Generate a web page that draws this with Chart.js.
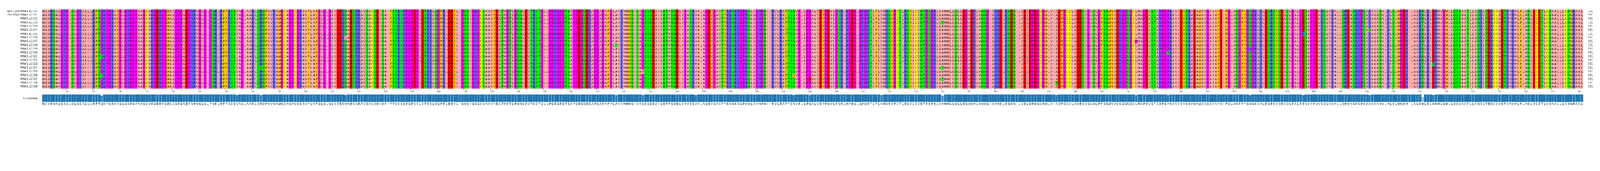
<!DOCTYPE html>
<html>
<head>
<meta charset="utf-8">
<script src="https://cdn.jsdelivr.net/npm/chart.js@4"></script>
<style>
  html, body { margin: 0; padding: 0; background: #fff; overflow: hidden; }
  #wrap { position: relative; width: 6081px; height: 438px; transform-origin: 0 0; }
  canvas { position: absolute; left: 0; top: 0; width: 6081px; height: 438px; }
</style>
</head>
<body>
<div id="wrap">
  <canvas id="msa" width="6081" height="438"></canvas>
  <canvas id="cons" width="6081" height="438"></canvas>
</div>
<script>
// reference sequence (row consensus) and the alignment rows
const REF_SEQ = 'MAVRQALGRGLQLGRALLLRFTGKPGRAYGLGRPGPAAGCVRGERPGWAAGPGAEPRRVGLGLPNRLRFFRQSVAGLAARLQRQFVVRAWGCAGPCGRAVFLAFGLGLGLIEEKQAESRRAVSACQEIQAIFTQKSKPGPDPLDTRRLQGFRLEEYLIGQSIGKGCSAAVYEATMPTLPQNLEVTKSTGLLPGRGPGTSAPGEGQERAPGAPAFPLAIKMMWNISAGSSSEAILNTMSQELVPASRVALAGEYGAVTYRKSKRGPKQLAPHPNIIRVLRAFTSSVPLLPGALVDYPDVLPSRLHPEGLGHGRTLFLVMKNYPCTLRQYLCVNTPSPRLAAMMLLQLLEGVDHLVQQGIAHRDLKSDNILVELDPDGCPWLVIADFGCCLADESIGLQLPFSSWYVDRGGNGCLMAPEVSTARPGPRAVIDYSKADAWAVGAIAYEIFGLVNPFYGQGKAHLESRSYQEAQLPALPESVPPDVRQLVRALLQREASKRPSARVAANVLHLSLWGEHILALKNLKLDKMVGWLLQQSAATLLANRLTEKCCVETKMKMLFLANLECETLCQAALLLCSWRAAL';

const ROW_NAMES = ['grch38p0:PINK1:a0001', 'chm13v2:PINK1:a0001',
  'PINK1:a0001', 'PINK1:a0002', 'PINK1:a0003', 'PINK1:a0004', 'PINK1:a0005',
  'PINK1:a0006', 'PINK1:a0007', 'PINK1:a0008', 'PINK1:a0009', 'PINK1:a0010',
  'PINK1:a0011', 'PINK1:a0012', 'PINK1:a0013', 'PINK1:a0014', 'PINK1:a0015',
  'PINK1:a0016', 'PINK1:a0017', 'PINK1:a0018', 'PINK1:a0019'];

// substitutions: [rows, context in REF_SEQ, offset in context, residue]
const VARIANTS = [
  [[12, 17], 'RFTGKP', 3, 'S'],
  [[12], 'FRQSVAG', 4, 'L'],
  [[15], 'LQRQFVV', 2, 'Q'],
  [[7], 'EEKQAES', 3, 'L'],
  [[9], 'FPLAIKM', 3, 'T'],
  [[16], 'ISAGSSS', 3, 'V'],
  [[14], 'SRVALAG', 2, 'M'],
  [[17], 'FTSSVPLL', 3, 'Y'],
  [[18], 'LLPGALVD', 3, 'E'],
  [[3, 15, 18], 'RLAAMML', 3, 'T'],
  [[20], 'FLVMKNY', 2, 'I'],
  [[8], 'NGCLMAP', 3, 'P'],
  [[11], 'RPGPRAV', 3, 'S'],
  [[19], 'LVIADFG', 3, 'T'],
  [[5], 'KRPSARVAAN', 5, 'Q'],
  [[6], 'PALPESV', 4, 'K'],
  [[10], 'YGQGKAH', 2, 'R'],
  [[3, 4, 9, 11, 14, 15, 18], 'LALKNLKLD', 4, 'T'],
  [[14], 'KNLKLDKMV', 5, 'N']
];

// Zappo colour scheme
const ZAPPO = {
  I: '#ffafaf', L: '#ffafaf', V: '#ffafaf', A: '#ffafaf', M: '#ffafaf',
  F: '#ffc800', W: '#ffc800', Y: '#ffc800',
  K: '#6464ff', R: '#6464ff', H: '#6464ff',
  D: '#ff0000', E: '#ff0000',
  S: '#00ff00', T: '#00ff00', N: '#00ff00', Q: '#00ff00',
  P: '#ff00ff', G: '#ff00ff',
  C: '#ffff00'
};

// fit the fixed 6081x438 drawing into whatever viewport we get
const wrap = document.getElementById('wrap');
const fit = Math.min(window.innerWidth / 6081, window.innerHeight / 438) || 1;
wrap.style.transform = `scale(${fit})`;

const rows = ROW_NAMES.map(() => REF_SEQ.split(''));
VARIANTS.forEach(([rr, ctx, off, aa]) => {
  const pos = REF_SEQ.indexOf(ctx) + off;
  rr.forEach(r => { rows[r][pos] = aa; });
});
const positions = REF_SEQ.split('').map((_, i) => String(i + 1));

// consensus letter + identity per column
const consensus = positions.map((_, j) => {
  const counts = {};
  rows.forEach(r => { counts[r[j]] = (counts[r[j]] || 0) + 1; });
  let best = null;
  Object.keys(counts).forEach(k => { if (!best || counts[k] > counts[best]) best = k; });
  return { aa: best, frac: counts[best] / rows.length };
});

function blueShade(frac) {
  const t = Math.min(1, (1 - frac) * 2.2);
  const base = [31, 119, 180], light = [198, 219, 239];
  const c = base.map((b, i) => Math.round(b + (light[i] - b) * t));
  return `rgb(${c[0]},${c[1]},${c[2]})`;
}

const letterPlugin = {
  id: 'letters',
  afterDatasetsDraw(chart) {
    const ctx = chart.ctx;
    ctx.save();
    ctx.font = '11px "DejaVu Sans"';
    ctx.fillStyle = '#111';
    ctx.textAlign = 'center';
    ctx.textBaseline = 'middle';
    chart.data.datasets.forEach((ds, i) => {
      chart.getDatasetMeta(i).data.forEach((bar, j) => {
        const yc = (bar.y + bar.base) / 2;
        ctx.fillText(rows[i][j], bar.x, yc + 0.5);
      });
    });
    ctx.restore();
  }
};

new Chart(document.getElementById('msa'), {
  type: 'bar',
  data: {
    labels: positions,
    datasets: rows.map(r => ({
      data: r.map(() => 1),
      backgroundColor: r.map(a => ZAPPO[a] || '#ffffff'),
      borderWidth: 0,
      barPercentage: 1,
      categoryPercentage: 1
    }))
  },
  options: {
    responsive: false,
    animation: false,
    devicePixelRatio: 1,
    layout: { padding: { top: 36, left: 0, right: 0, bottom: 0 } },
    plugins: { legend: { display: false }, tooltip: { enabled: false } },
    scales: {
      x: {
        stacked: true,
        grid: {
          drawOnChartArea: false, drawTicks: true, tickLength: 4,
          color: c => ((c.index + 1) % 10 === 0 ? '#333' : 'rgba(0,0,0,0)')
        },
        border: { display: false },
        ticks: {
          autoSkip: false, maxRotation: 0, color: '#333',
          font: { family: 'DejaVu Sans', size: 7 },
          callback: (v, i) => ((i + 1) % 10 === 0 ? String(i + 1) : '')
        },
        afterFit: s => { s.height = 101; }
      },
      y: {
        stacked: true, reverse: true, min: 0, max: rows.length,
        grid: { display: false }, border: { display: false },
        afterBuildTicks: s => { s.ticks = ROW_NAMES.map((_, i) => ({ value: i + 0.5 })); },
        ticks: {
          color: '#222', font: { family: 'DejaVu Sans', size: 10 }, padding: 10,
          callback: (v, i) => ROW_NAMES[i]
        },
        afterFit: s => { s.width = 160; }
      },
      yr: {
        position: 'right', reverse: true, min: 0, max: rows.length,
        grid: { display: false }, border: { display: false },
        afterBuildTicks: s => { s.ticks = ROW_NAMES.map((_, i) => ({ value: i + 0.5 })); },
        ticks: {
          color: '#222', font: { family: 'DejaVu Sans', size: 10 }, padding: 10,
          callback: () => String(REF_SEQ.length)
        },
        afterFit: s => { s.width = 64; }
      }
    }
  },
  plugins: [letterPlugin]
});

const consLetters = {
  id: 'consLetters',
  afterDatasetsDraw(chart) {
    const ctx = chart.ctx;
    ctx.save();
    ctx.font = '11px "DejaVu Sans"';
    ctx.fillStyle = '#222';
    ctx.textAlign = 'center';
    ctx.textBaseline = 'middle';
    chart.getDatasetMeta(0).data.forEach((bar, j) => {
      ctx.fillText(consensus[j].aa, bar.x, chart.chartArea.bottom + 8);
    });
    ctx.restore();
  }
};

new Chart(document.getElementById('cons'), {
  type: 'bar',
  data: {
    labels: positions,
    datasets: [{
      data: consensus.map(c => c.frac),
      backgroundColor: consensus.map(c => blueShade(c.frac)),
      borderColor: '#ffffff',
      borderWidth: { left: 0.5, right: 0.5, top: 0, bottom: 0 },
      barPercentage: 1,
      categoryPercentage: 1
    }]
  },
  options: {
    responsive: false,
    animation: false,
    devicePixelRatio: 1,
    layout: { padding: { top: 360, bottom: 50 } },
    plugins: { legend: { display: false }, tooltip: { enabled: false } },
    scales: {
      x: { display: false },
      y: {
        min: 0, max: 1,
        grid: { display: false }, border: { display: false },
        afterBuildTicks: s => { s.ticks = [{ value: 0.5 }]; },
        ticks: {
          color: '#222', font: { family: 'DejaVu Sans', size: 10 }, padding: 10,
          callback: () => 'Consensus'
        },
        afterFit: s => { s.width = 160; }
      },
      yr: {
        position: 'right', min: 0, max: 1,
        grid: { display: false }, border: { display: false },
        ticks: { display: false },
        afterFit: s => { s.width = 64; }
      }
    }
  },
  plugins: [consLetters]
});
</script>
</body>
</html>
